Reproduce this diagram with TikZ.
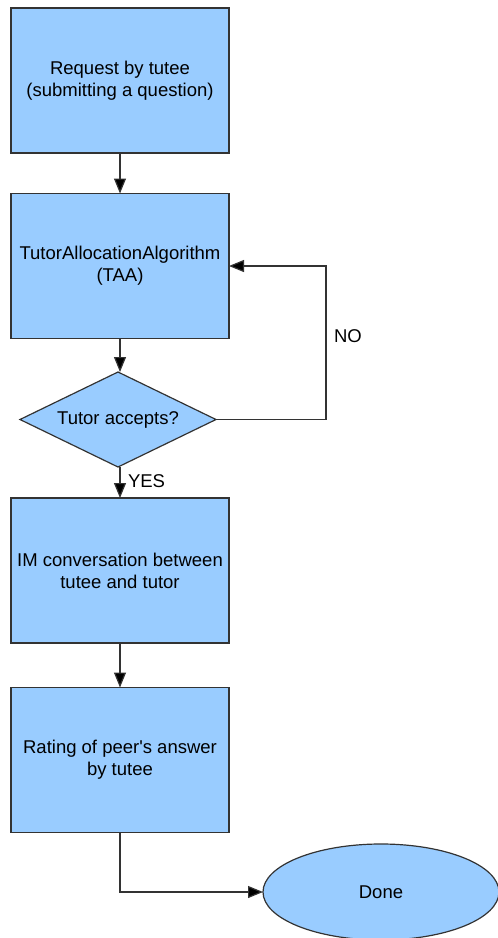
\documentclass[tikz,border=0pt]{standalone}
\usepackage{fontspec}
\setmainfont{Liberation Sans}
\usetikzlibrary{shapes.geometric,arrows.meta}
\definecolor{boxfill}{HTML}{99CCFF}
\definecolor{edge}{HTML}{333333}
\begin{document}
\begin{tikzpicture}[x=1pt,y=-1pt,
  font=\fontsize{18.5}{22}\selectfont,
  every node/.style={inner sep=0pt,outer sep=0pt},
  stepbox/.style={draw=edge,fill=boxfill,line width=1.2pt,minimum width=218pt,minimum height=145pt,align=center},
  decision/.style={diamond,draw=edge,fill=boxfill,line width=1.2pt,minimum width=196pt,minimum height=95pt,aspect=2.06,align=center},
  terminal/.style={ellipse,draw=edge,fill=boxfill,line width=1.2pt,minimum width=236pt,minimum height=96pt},
  flow/.style={draw=edge,line width=1.2pt,-{Triangle[length=15pt,width=12pt,fill=black]}},
  lbl/.style={font=\fontsize{18.5}{22}\selectfont}]
\useasboundingbox (0,0) rectangle (498,938);
\node[stepbox] (request) at (120,80.5) {Request by tutee\\(submitting a question)};
\node[stepbox] (taa) at (120,266) {TutorAllocationAlgorithm\\(TAA)};
\node[decision] (accept) at (118,419.5) {Tutor accepts?};
\node[stepbox] (im) at (120,570.5) {IM conversation between\\tutee and tutor};
\node[stepbox] (rating) at (120,760) {Rating of peer\textquotesingle s answer\\by tutee};
\node[terminal] (done) at (381,892) {Done};
\coordinate (loop) at (326,419.5);
\draw[flow] (request.south) -- (taa.north);
\draw[flow] (taa.south) -- (taa.south |- accept.north);
\draw[flow] (accept.east) -- (loop) |- (taa.east);
\draw[flow] (accept.south -| taa.south) -- (im.north);
\draw[flow] (im.south) -- (rating.north);
\draw[flow] (rating.south) |- (done.west);
\node[lbl,anchor=west] at (334,336) {NO};
\node[lbl,anchor=west] at (128,481) {YES};
\end{tikzpicture}
\end{document}
